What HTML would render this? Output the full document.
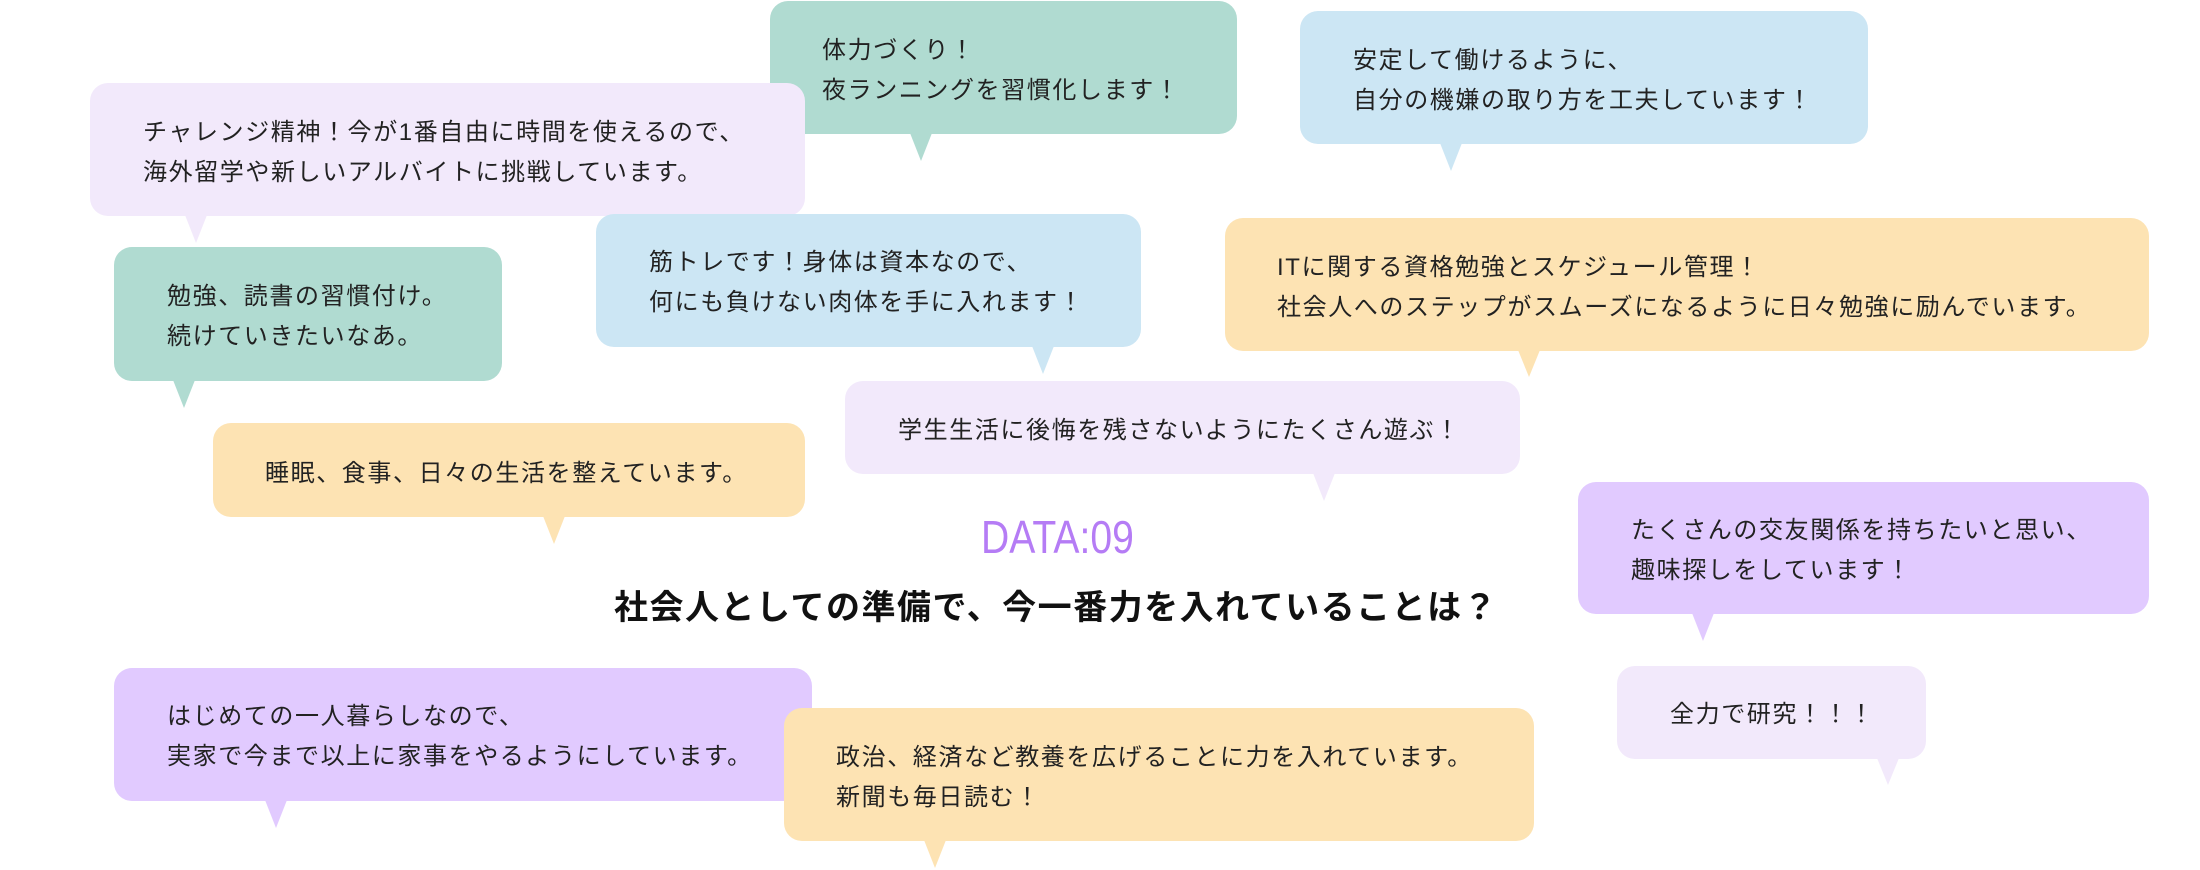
<!DOCTYPE html>
<html><head><meta charset="utf-8"><style>
body{margin:0;width:2200px;height:870px;background:#fff;position:relative;overflow:hidden;font-family:"Liberation Sans","Noto Sans CJK JP",sans-serif;}
.b{position:absolute;border-radius:18px;}
.t{position:absolute;width:0;height:0;border-left:11px solid transparent;border-right:11px solid transparent;}
.x{position:absolute;font-size:24px;line-height:40px;letter-spacing:1.6px;color:#222;white-space:nowrap;}
.g{background:#b0dbd1}.l{background:#f2e9fb}.bl{background:#cce6f4}.y{background:#fde3b3}.p{background:#e1caff}
</style></head><body>

<div class="b g" style="left:770px;top:1px;width:467px;height:133px"></div>
<div class="t" style="left:910px;top:133px;border-top:28px solid #b0dbd1"></div>
<div class="x" style="left:822px;top:31px">体力づくり！<br>夜ランニングを習慣化します！</div>

<div class="b bl" style="left:1300px;top:11px;width:568px;height:133px"></div>
<div class="t" style="left:1440px;top:143px;border-top:28px solid #cce6f4"></div>
<div class="x" style="left:1353px;top:41px">安定して働けるように、<br>自分の機嫌の取り方を工夫しています！</div>

<div class="b l" style="left:90px;top:83px;width:715px;height:133px"></div>
<div class="t" style="left:185px;top:215px;border-top:28px solid #f2e9fb"></div>
<div class="x" style="left:143px;top:113px">チャレンジ精神！今が1番自由に時間を使えるので、<br>海外留学や新しいアルバイトに挑戦しています。</div>

<div class="b bl" style="left:596px;top:214px;width:545px;height:133px"></div>
<div class="t" style="left:1032px;top:346px;border-top:28px solid #cce6f4"></div>
<div class="x" style="left:649px;top:243px">筋トレです！身体は資本なので、<br>何にも負けない肉体を手に入れます！</div>

<div class="b y" style="left:1225px;top:218px;width:924px;height:133px"></div>
<div class="t" style="left:1518px;top:350px;border-top:27px solid #fde3b3"></div>
<div class="x" style="left:1277px;top:248px">ITに関する資格勉強とスケジュール管理！<br>社会人へのステップがスムーズになるように日々勉強に励んでいます。</div>

<div class="b g" style="left:114px;top:247px;width:388px;height:134px"></div>
<div class="t" style="left:173px;top:380px;border-top:28px solid #b0dbd1"></div>
<div class="x" style="left:167px;top:277px">勉強、読書の習慣付け。<br>続けていきたいなあ。</div>

<div class="b l" style="left:845px;top:381px;width:675px;height:93px"></div>
<div class="t" style="left:1313px;top:473px;border-top:28px solid #f2e9fb"></div>
<div class="x" style="left:898px;top:411px">学生生活に後悔を残さないようにたくさん遊ぶ！</div>

<div class="b y" style="left:213px;top:423px;width:592px;height:94px"></div>
<div class="t" style="left:543px;top:516px;border-top:28px solid #fde3b3"></div>
<div class="x" style="left:265px;top:454px">睡眠、食事、日々の生活を整えています。</div>

<div class="b p" style="left:1578px;top:482px;width:571px;height:132px"></div>
<div class="t" style="left:1692px;top:613px;border-top:28px solid #e1caff"></div>
<div class="x" style="left:1631px;top:511px">たくさんの交友関係を持ちたいと思い、<br>趣味探しをしています！</div>

<div style="position:absolute;left:981px;top:510px;font-size:46px;line-height:54px;color:#b57cf5;transform:scaleX(0.85);transform-origin:left top;white-space:nowrap">DATA:09</div>
<div style="position:absolute;left:614px;top:586px;font-size:34px;line-height:44px;font-weight:bold;letter-spacing:1.5px;color:#111;white-space:nowrap">社会人としての準備で、今一番力を入れていることは？</div>

<div class="b l" style="left:1617px;top:666px;width:309px;height:93px"></div>
<div class="t" style="left:1877px;top:758px;border-top:27px solid #f2e9fb"></div>
<div class="x" style="left:1670px;top:695px">全力で研究！！！</div>

<div class="b p" style="left:114px;top:668px;width:698px;height:133px"></div>
<div class="t" style="left:265px;top:800px;border-top:28px solid #e1caff"></div>
<div class="x" style="left:167px;top:697px">はじめての一人暮らしなので、<br>実家で今まで以上に家事をやるようにしています。</div>

<div class="b y" style="left:784px;top:708px;width:750px;height:133px"></div>
<div class="t" style="left:924px;top:840px;border-top:28px solid #fde3b3"></div>
<div class="x" style="left:836px;top:738px">政治、経済など教養を広げることに力を入れています。<br>新聞も毎日読む！</div>

</body></html>
